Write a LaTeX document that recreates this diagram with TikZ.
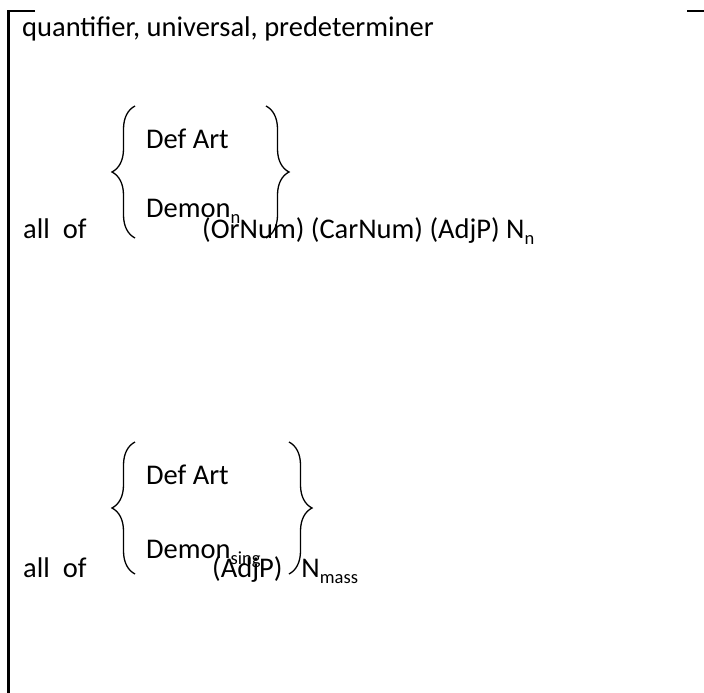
\documentclass[tikz,border=0pt]{standalone}
\usepackage{fontspec}
\setmainfont{Carlito}
\usetikzlibrary{positioning,decorations.pathreplacing}
\newcommand{\lowtxt}[1]{\raisebox{-0.22em}{\fontsize{18.5}{20}\selectfont #1}}

\begin{document}
\begin{tikzpicture}[x=1pt,y=-1pt,
    txt/.style={inner sep=0pt, anchor=base west, font=\fontsize{28.5}{34}\selectfont},
    brc/.style={decorate, decoration={brace, amplitude=23pt}, line width=1.3pt}]
         \useasboundingbox (0,0) rectangle (704,693);
         % Frame
         \draw[line width=2.6pt] (35,11) -- (8.5,11) -- (8.5,693);
         \draw[line width=2.6pt] (687,11) -- (704,11);

         % Define nodes
         \node[txt] (title) at (22,37) {quantifier, universal, predeterminer};

         \node[txt] (all1) at (23,238) {all~~of};
         \node[txt] (def1) at (146,148) {Def Art};
         \node[txt] (dem1) at (146,217) {Demon\lowtxt{n}};
         \node[txt] (rest1) at (202,238) {(OrNum) (CarNum) (AdjP) N\lowtxt{n}};

         \node[txt] (all2) at (23,577) {all~~of};
         \node[txt] (def2) at (146,484) {Def Art};
         \node[txt] (dem2) at (146,558) {Demon\lowtxt{sing}};
         \node[txt] (rest2) at (212,577) {(AdjP)\hspace{19pt}N\lowtxt{mass}};

         % Draw braces
         \draw[brc] (135,238) -- (135,106);
         \draw[brc] (266,106) -- (266,238);
         \draw[brc] (135,574) -- (135,442);
         \draw[brc] (289,442) -- (289,574);
\end{tikzpicture}
\end{document}
